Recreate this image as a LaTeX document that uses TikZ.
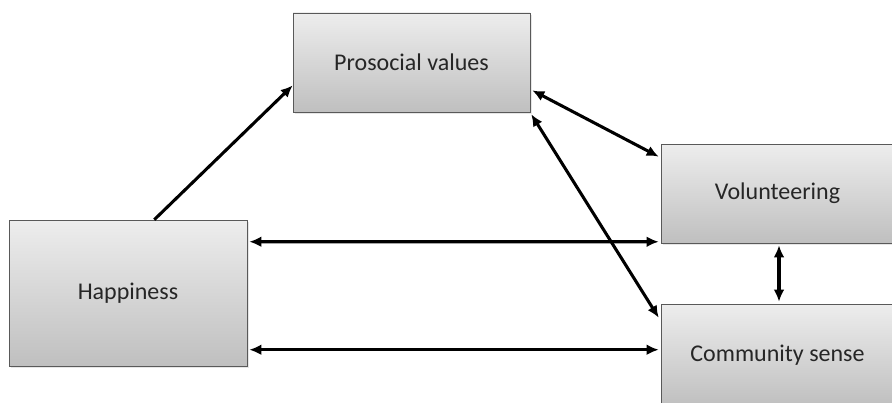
\documentclass[tikz,border=0pt]{standalone}
\usepackage{fontspec}
\setmainfont{Carlito}
\usetikzlibrary{calc,shadows,arrows.meta}

\begin{document}
\begin{tikzpicture}[x=0.75pt,y=-0.75pt]
\tikzstyle{box}=[rectangle, draw=black!65, top color=black!7, bottom color=black!25, text=black!85, font=\fontsize{18}{22}\selectfont, drop shadow={opacity=0.2, shadow xshift=1.2pt, shadow yshift=-1.2pt}]
\tikzstyle{connect}=[{Latex[length=9pt,width=8pt]}-{Latex[length=9pt,width=8pt]}, line width=2.3pt]
\useasboundingbox (0,0) rectangle (892,403);
  \node[box, minimum width=177.75pt, minimum height=74.25pt] (pro) at (411.5,62.5) {Prosocial values};
  \node[box, minimum width=178.5pt, minimum height=109.5pt] (hap) at (128,293) {Happiness};
  \node[box, minimum width=174.75pt, minimum height=74.25pt] (vol) at (777.5,193.5) {Volunteering};
  \node[box, minimum width=174.75pt, minimum height=76.5pt] (com) at (777.5,355) {Community sense};
  %\node[box] (com) [below=of vol] {Community sense};
  \draw[{Latex[length=9pt,width=8pt]}-, line width=2.3pt] ($(pro.north west)!0.73!(pro.south west)$) -- ($(hap.north west)!0.61!(hap.north east)$);
  \draw[connect] ($(pro.north east)!0.78!(pro.south east)+(2,0)$) -- ($(vol.north west)!0.13!(vol.south west)+(-2,0)$);
  \draw[connect] ($(pro.south east)+(1,2)$) -- ($(com.north west)+(-2,14)$);
  \draw[connect] ($(hap.north east)+(2,22)$) -- ($(vol.south west)+(-2,-1.5)$);
  \draw[connect] ($(hap.north east)+(2,130)$) -- ($(com.north west)+(-2,46)$);
  \draw[connect] ($(vol.south)+(1.5,2)$) -- ($(com.north)+(1.5,-2)$);
\end{tikzpicture}
\end{document}
